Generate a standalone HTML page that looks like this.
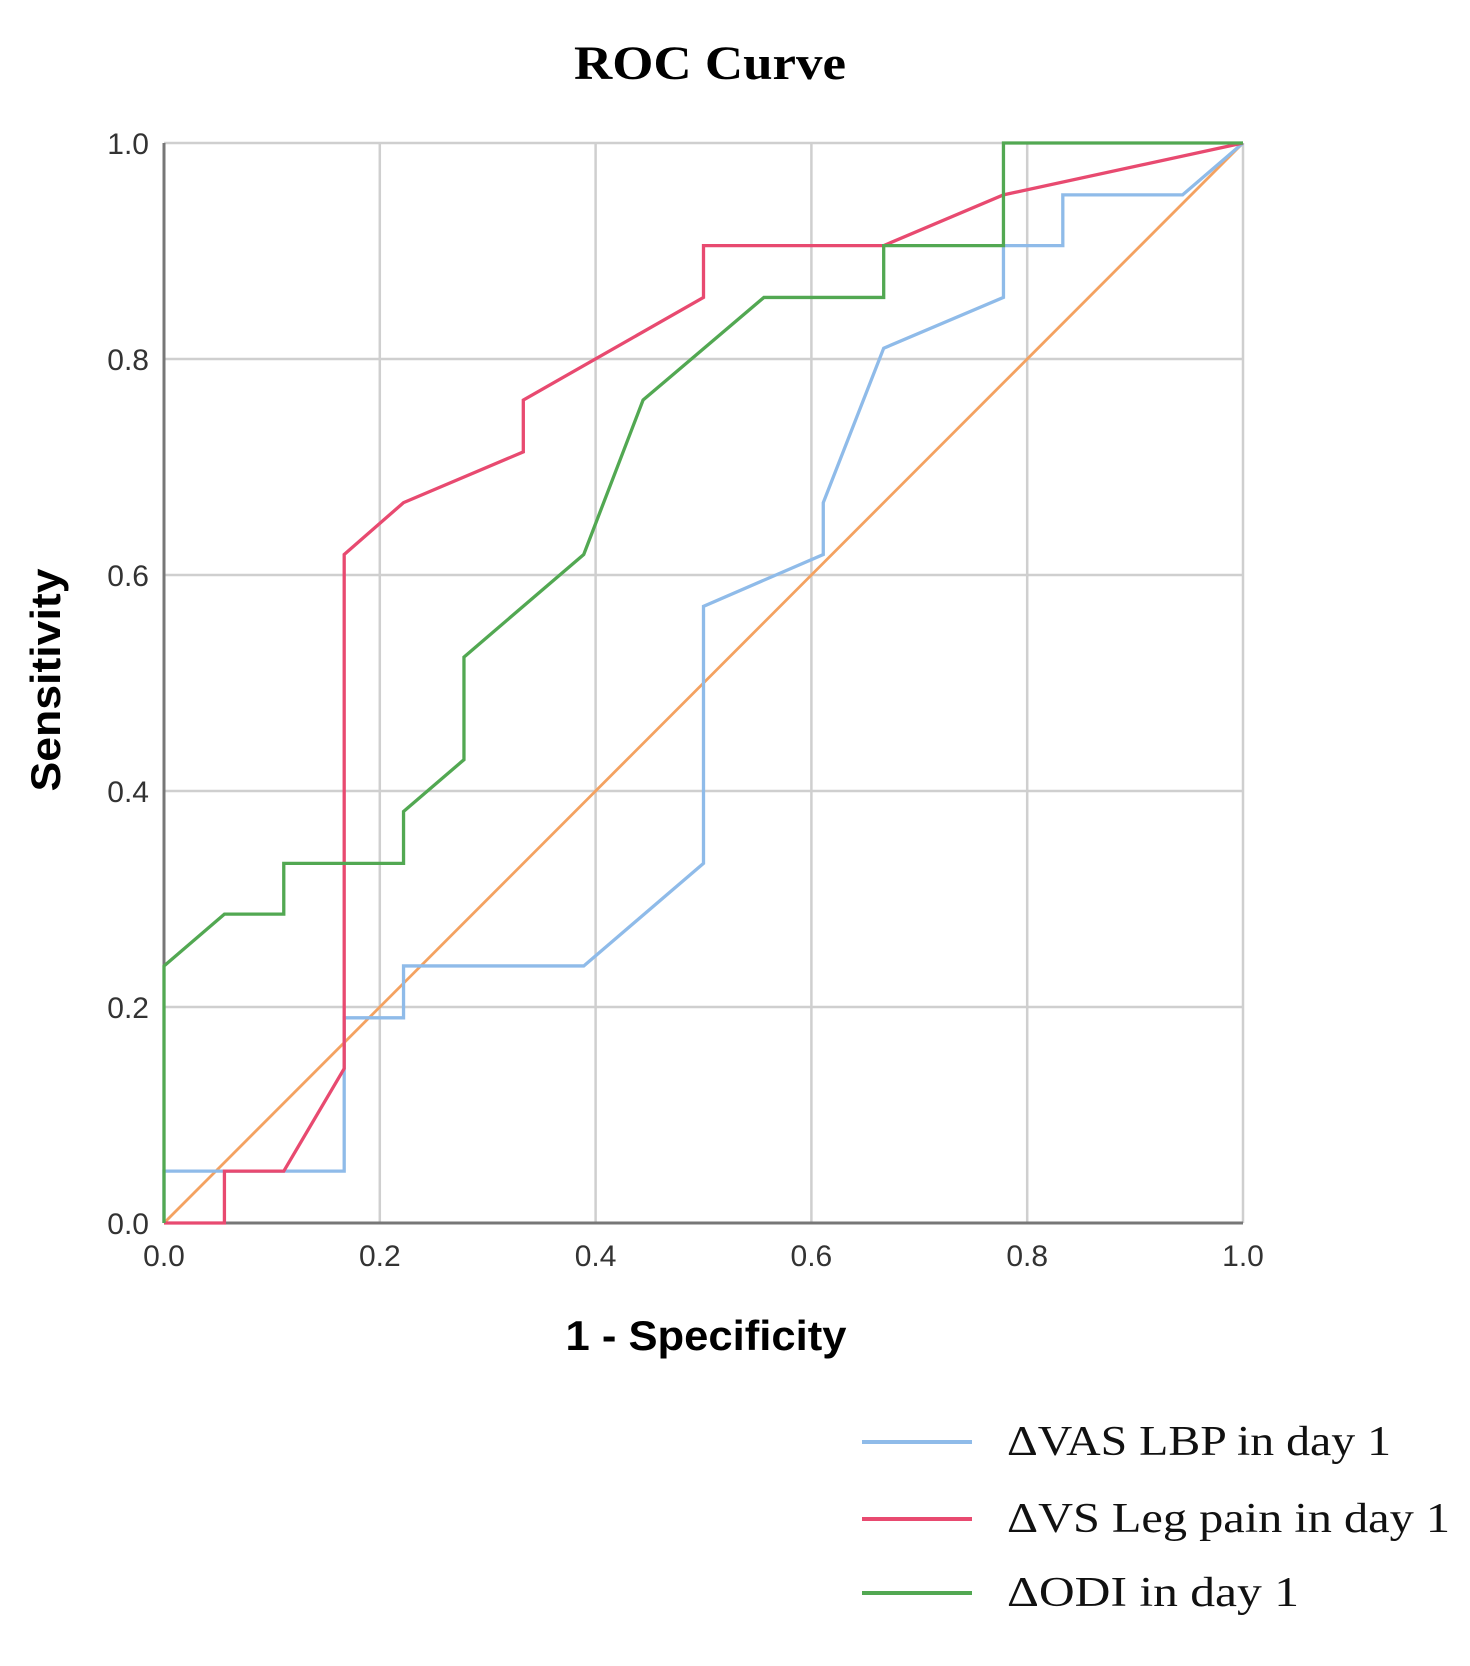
<!DOCTYPE html>
<html><head><meta charset="utf-8"><style>
html,body{margin:0;padding:0;background:#fff;}
svg{display:block;}
</style></head><body>
<svg id="chart" width="1470" height="1666" viewBox="0 0 1470 1666" xmlns="http://www.w3.org/2000/svg">
<text x="710" y="79" text-anchor="middle" font-family="Liberation Serif, serif" font-weight="bold" font-size="48" textLength="272" lengthAdjust="spacingAndGlyphs">ROC Curve</text>
<g id="grid"></g>
<g id="ticks"></g>
<g id="series"></g>
<text x="706" y="1350" text-anchor="middle" font-family="Liberation Sans, sans-serif" font-weight="bold" font-size="42" textLength="281" lengthAdjust="spacingAndGlyphs">1 - Specificity</text>
<text transform="translate(60,680) rotate(-90)" text-anchor="middle" font-family="Liberation Sans, sans-serif" font-weight="bold" font-size="42" textLength="223" lengthAdjust="spacingAndGlyphs">Sensitivity</text>
<g id="legend"></g>
</svg>
<script>
const seriesNames = ["\u0394VAS LBP in day 1","\u0394VS Leg pain in day 1","\u0394ODI in day 1"];
const seriesColors = ["#8fbbe9","#e84a70","#52a852"];
const blueX = [0,0,0.167,0.167,0.222,0.222,0.389,0.5,0.5,0.611,0.611,0.667,0.778,0.778,0.833,0.833,0.944,1];
const blueY = [0,0.048,0.048,0.19,0.19,0.238,0.238,0.333,0.571,0.619,0.667,0.81,0.857,0.905,0.905,0.952,0.952,1];
const redX = [0,0.056,0.056,0.111,0.167,0.167,0.222,0.333,0.333,0.5,0.5,0.667,0.778,1];
const redY = [0,0,0.048,0.048,0.143,0.619,0.667,0.714,0.762,0.857,0.905,0.905,0.952,1];
const greenX = [0,0,0.056,0.111,0.111,0.222,0.222,0.278,0.278,0.389,0.444,0.556,0.667,0.667,0.778,0.778,1];
const greenY = [0,0.238,0.286,0.286,0.333,0.333,0.381,0.429,0.524,0.619,0.762,0.857,0.857,0.905,0.905,1,1];
const refX = [0,1];
const refY = [0,1];
const tickValues = [0,0.2,0.4,0.6,0.8,1.0];
const tickLabels = ["0.0","0.2","0.4","0.6","0.8","1.0"];

const NS="http://www.w3.org/2000/svg";
const X0=164,X1=1243,Y0=1223,Y1=143;
function sx(v){return X0+(X1-X0)*v;}
function sy(v){return Y0-(Y0-Y1)*v;}
function mk(tag,attrs,parent){const e=document.createElementNS(NS,tag);for(const k in attrs)e.setAttribute(k,attrs[k]);parent.appendChild(e);return e;}
const grid=document.getElementById('grid'),ticks=document.getElementById('ticks'),ser=document.getElementById('series'),leg=document.getElementById('legend');
tickValues.forEach((v,i)=>{
  const gv=mk('line',{x1:sx(v),x2:sx(v),y1:Y1,y2:Y0,stroke:'#cfcfcf','stroke-width':2.5},grid);
  
  
  const gh=mk('line',{x1:X0,x2:X1,y1:sy(v),y2:sy(v),stroke:'#cfcfcf','stroke-width':2.5},grid);
  
  
  const tx=mk('text',{x:sx(v),y:1266,'text-anchor':'middle','font-family':'Liberation Sans, sans-serif','font-size':30,fill:'#333'},ticks);
  tx.textContent=tickLabels[i];
  
  
  const ty=mk('text',{x:149,y:sy(v)+11,'text-anchor':'end','font-family':'Liberation Sans, sans-serif','font-size':30,fill:'#333'},ticks);
  ty.textContent=tickLabels[i];
  
  
});
const ax=mk('line',{x1:X0,x2:X1,y1:Y0,y2:Y0,stroke:'#777','stroke-width':3},grid);


const ay=mk('line',{x1:X0,x2:X0,y1:Y1,y2:Y0,stroke:'#777','stroke-width':3},grid);


function pts(xs,ys){return xs.map((x,i)=>sx(x)+','+sy(ys[i])).join(' ');}
const r=mk('polyline',{points:pts(refX,refY),fill:'none',stroke:'#f4a261','stroke-width':2.8},ser);


const data=[[blueX,blueY,'series-vas-lbp'],[redX,redY,'series-vs-leg-pain'],[greenX,greenY,'series-odi']];
data.forEach((d,i)=>{
  const p=mk('polyline',{points:pts(d[0],d[1]),fill:'none',stroke:seriesColors[i],'stroke-width':3.3,'stroke-linejoin':'miter'},ser);
  
  
});
const legY=[1442,1519,1593];
const legW=[384,443,292];
seriesNames.forEach((n,i)=>{
  const l=mk('line',{x1:862,x2:972,y1:legY[i],y2:legY[i],stroke:seriesColors[i],'stroke-width':4},leg);
  
  
  const t=mk('text',{x:1007,y:legY[i]+13,'font-family':'Liberation Serif, serif','font-size':42,fill:'#111',textLength:legW[i],lengthAdjust:'spacingAndGlyphs'},leg);
  t.textContent=n;
  
  
});
</script>
</body></html>
